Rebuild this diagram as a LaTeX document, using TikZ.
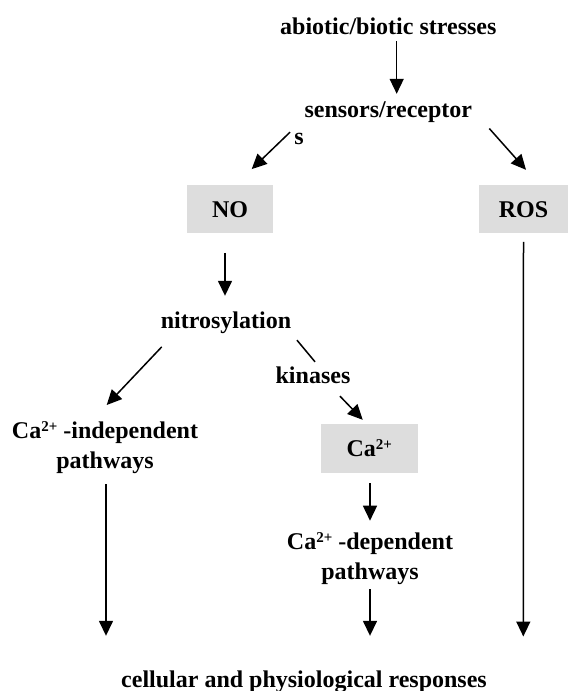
\documentclass[tikz,border=0pt]{standalone}
\usepackage{fontspec}
\setmainfont{Liberation Serif}
\usepackage{tikz}
\usetikzlibrary{arrows.meta}

\definecolor{boxgray}{RGB}{221,221,221}
\newcommand{\sups}[1]{\raisebox{7pt}{\fontsize{15}{15}\selectfont\bfseries #1}}

\tikzset{
  every node/.style={font=\fontsize{24}{30}\selectfont\bfseries, inner sep=0pt},
  txt/.style={anchor=base, text height=16.5pt, text depth=5pt},
  txttwo/.style={anchor=north, align=center},
  graybox/.style={fill=boxgray, text height=16pt, text depth=0pt, minimum height=48pt},
  arr/.style={-{Triangle[length=15pt,width=14pt]}, line width=1.5pt},
  plain/.style={line width=1.5pt}
}

\begin{document}
\begin{tikzpicture}[x=1pt,y=-1pt]
                \useasboundingbox (0,0) rectangle (568,691);
                % Stress and its perception
                \node[txt] (stress) at (388.3,34.3) {abiotic/biotic stresses};
                \node[txt] (sensor) at (388.3,117) {sensors/receptor};
                \node[txt] (s) at (299,144) {s};
                % The two signals
                \node[graybox, minimum width=86.6pt] (no) at (230,209) {NO};
                \node[graybox, minimum width=88.4pt] (ros) at (523.5,209) {ROS};
                % NO branch
                \node[txt] (nitro) at (226,328) {nitrosylation};
                \node[txt] (kin) at (313,383.3) {kinases};
                \node[graybox, minimum width=96.7pt, minimum height=49pt] (ca) at (369.3,448.5) {Ca\sups{2+}};
                \node[txttwo] (indep) at (105,421) {Ca\sups{2+} -independent\\pathways};
                \node[txttwo] (dep) at (370,532) {Ca\sups{2+} -dependent\\pathways};
                % Common output
                \node[txt] (resp) at (304,687) {cellular and physiological responses};

                % Arrows from the top
                \draw[arr] ([shift={(8.4,1.7)}]stress.south) -- ([shift={(8.4,-6.5)}]sensor.north);
                \draw[arr] ([shift={(-98.3,10)}]sensor.south) -- ([shift={(21.7,-15.7)}]no.north);
                \draw[arr] ([shift={(101,6.3)}]sensor.south) -- ([shift={(2.5,-15)}]ros.north);
                % Arrows in the NO branch
                \draw[arr] ([shift={(-5,19.7)}]no.south) -- ([shift={(-1,-15.5)}]nitro.north);
                \draw[arr] ([shift={(-64.3,13.7)}]nitro.south) -- ([shift={(1.7,-16)}]indep.north);
                \draw[plain] ([shift={(71,7)}]nitro.south) -- ([shift={(2,-4.8)}]kin.north);
                \draw[arr] ([shift={(27,7.7)}]kin.south) -- ([shift={(-6.6,-4)}]ca.north);
                \draw[arr] ([shift={(0.7,10)}]ca.south) -- ([shift={(0,-11.3)}]dep.north);
                % Arrows down to the responses
                \draw[arr] ([shift={(1,10.5)}]indep.south) -- ([shift={(-198,-34.5)}]resp.north);
                \draw[arr] ([shift={(0,4.8)}]dep.south) -- ([shift={(66,-34.5)}]resp.north);
                \draw[arr] ([shift={(0,8.7)}]ros.south) -- ([shift={(219.3,-33.8)}]resp.north);
            \end{tikzpicture}
\end{document}
